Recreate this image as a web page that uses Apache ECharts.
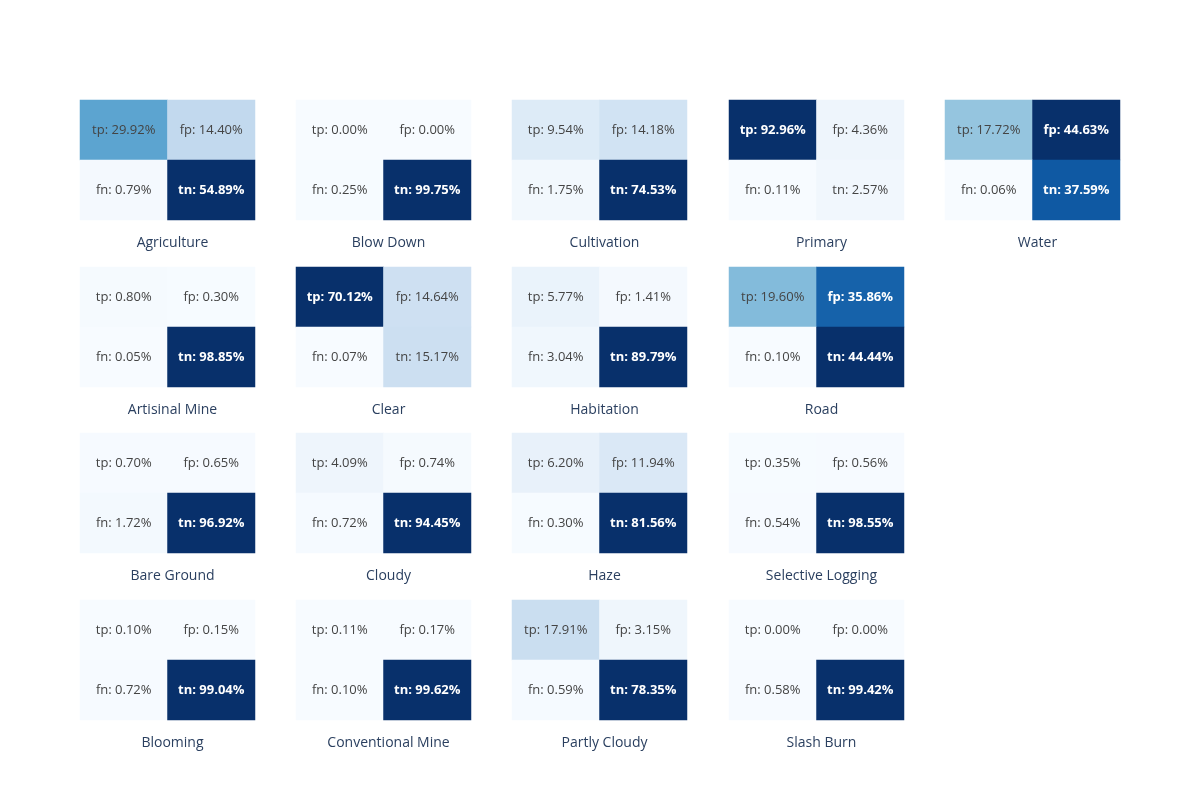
<!DOCTYPE html>
<html><head><meta charset="utf-8">
<script src="https://cdn.jsdelivr.net/npm/echarts@6/dist/echarts.min.js"></script>
<style>html,body{margin:0;background:#fff}#ech{width:1200px;height:800px}</style>
</head><body><div id="ech"></div>
<script>
var names = ['Agriculture','Blow Down','Cultivation','Primary','Water',
             'Artisinal Mine','Clear','Habitation','Road',
             'Bare Ground','Cloudy','Haze','Selective Logging',
             'Blooming','Conventional Mine','Partly Cloudy','Slash Burn'];
var tp = [29.92,0.00,9.54,92.96,17.72, 0.80,70.12,5.77,19.60, 0.70,4.09,6.20,0.35, 0.10,0.11,17.91,0.00];
var fp = [14.40,0.00,14.18,4.36,44.63, 0.30,14.64,1.41,35.86, 0.65,0.74,11.94,0.56, 0.15,0.17,3.15,0.00];
var fn = [0.79,0.25,1.75,0.11,0.06, 0.05,0.07,3.04,0.10, 1.72,0.72,0.30,0.54, 0.72,0.10,0.59,0.58];
var tn = [54.89,99.75,74.53,2.57,37.59, 98.85,15.17,89.79,44.44, 96.92,94.45,81.56,98.55, 99.04,99.62,78.35,99.42];
var rowSizes = [5,4,4,4];

var blues = ['rgb(247,251,255)','rgb(222,235,247)','rgb(198,219,239)','rgb(158,202,225)',
             'rgb(107,174,214)','rgb(66,146,198)','rgb(33,113,181)','rgb(8,81,156)','rgb(8,48,107)'];
var colX = [80,296,512,729,945], rowY = [100,267,433,600], W = 175, H = 120;

var grid = [], xAxis = [], yAxis = [], series = [], visualMap = [], title = [];
var k = 0;
rowSizes.forEach(function (n, r) {
    for (var c = 0; c < n; c++, k++) {
        var mx = Math.max(tp[k], fp[k], fn[k], tn[k]);
        grid.push({left: colX[c], top: rowY[r], width: W, height: H});
        xAxis.push({type:'category', data:['a','b'], gridIndex:k, show:false});
        yAxis.push({type:'category', data:['b','t'], gridIndex:k, show:false});
        var cells = [[0,1,tp[k],'tp'],[1,1,fp[k],'fp'],[0,0,fn[k],'fn'],[1,0,tn[k],'tn']];
        series.push({
            type:'heatmap', xAxisIndex:k, yAxisIndex:k,
            data: cells.map(function (d) {
                var dark = d[2] / mx > 0.7;
                return {value:[d[0],d[1],d[2]],
                    label:{show:true, formatter: d[3] + ': ' + d[2].toFixed(2) + '%',
                        color: dark ? '#fff' : '#444', fontWeight: dark ? 'bold' : 'normal',
                        fontSize:13, fontFamily:'Open Sans'}};
            }),
            emphasis:{disabled:true}
        });
        visualMap.push({show:false, seriesIndex:k, min:0, max:mx, dimension:2,
            inRange:{color:blues}});
        title.push({text:names[k], left: colX[c] + W/2, top: rowY[r] + H + 11,
            textAlign:'center',
            textStyle:{fontSize:14, fontWeight:'normal', color:'#2a3f5f', fontFamily:'Open Sans'}});
    }
});

var myChart = echarts.init(document.getElementById('ech'));
myChart.setOption({animation:false, title:title, grid:grid, xAxis:xAxis, yAxis:yAxis,
    visualMap:visualMap, series:series});
</script></body></html>
